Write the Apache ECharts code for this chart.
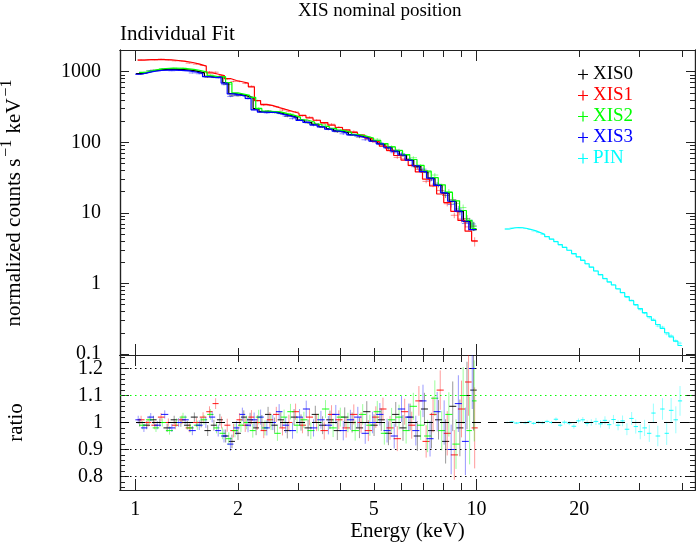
<!DOCTYPE html>
<html><head><meta charset="utf-8">
<script src="https://cdn.jsdelivr.net/npm/echarts@6/dist/echarts.min.js"></script>
<style>html,body{margin:0;padding:0;background:#fff}#c{width:696px;height:544px}</style>
</head><body><div id="c"></div>
<script>
// ---------------- data ----------------
const xis0Energy = [1.03,1.08,1.13,1.18,1.24,1.30,1.36,1.42,1.49,1.56,1.63,1.70,1.77,1.84,1.92,2.00,2.08,2.17,2.26,2.35,2.45,2.56,2.67,2.79,2.92,3.06,3.21,3.37,3.54,3.72,3.91,4.11,4.32,4.54,4.77,5.01,5.26,5.52,5.80,6.09,6.39,6.71,7.04,7.38,7.74,8.12,8.52,8.94,9.38,9.80];
const xis1Energy = [1.04,1.09,1.14,1.19,1.25,1.31,1.37,1.44,1.51,1.58,1.65,1.72,1.79,1.86,1.94,2.02,2.10,2.19,2.28,2.38,2.48,2.59,2.70,2.82,2.95,3.09,3.24,3.40,3.58,3.76,3.95,4.15,4.37,4.59,4.82,5.07,5.32,5.58,5.86,6.16,6.46,6.78,7.12,7.46,7.83,8.21,8.61,9.04,9.48,9.88];
const xis2Energy = [1.05,1.10,1.15,1.20,1.26,1.32,1.38,1.45,1.52,1.59,1.66,1.73,1.80,1.88,1.96,2.04,2.12,2.21,2.30,2.40,2.50,2.61,2.73,2.85,2.98,3.12,3.27,3.44,3.61,3.80,3.99,4.20,4.41,4.64,4.87,5.12,5.37,5.64,5.93,6.22,6.53,6.86,7.19,7.55,7.91,8.30,8.71,9.14,9.55,9.85];
const xis3Energy = [1.02,1.06,1.11,1.16,1.22,1.28,1.34,1.40,1.47,1.54,1.61,1.68,1.75,1.82,1.90,1.98,2.06,2.14,2.23,2.33,2.43,2.53,2.64,2.76,2.89,3.03,3.17,3.33,3.50,3.68,3.87,4.07,4.27,4.49,4.72,4.96,5.21,5.47,5.74,6.03,6.33,6.64,6.97,7.31,7.67,8.04,8.43,8.85,9.28,9.72];

const xis0Model = [940,990,1040,1070,1085,1080,1070,1050,1010,960,860,835,845,700,490,475,455,430,300,272,270,268,252,240,225,205,192,178,166,155,145,137,128,121,114,105,95,85,75,66,56,46,38,31,24.5,19,14.5,10.5,7.5,5.8];
const xis1Model = [1460,1480,1485,1480,1470,1440,1400,1350,1280,1200,960,920,880,800,750,720,690,610,390,345,330,310,292,275,258,240,222,205,190,175,162,150,138,126,114,102,88,77,65,56,47,38,30,24,18.5,14,10.5,7.8,5.5,4.0];
const xis2Model = [980,1030,1080,1110,1125,1120,1105,1080,1040,985,875,845,850,700,500,482,462,432,300,276,273,270,255,242,227,207,194,180,168,157,147,138,129,122,115,106,96,86,76,67,57,47,39,31.5,25,19.5,14.8,10.8,7.8,6.0];
const xis3Model = [920,965,1010,1040,1055,1052,1045,1025,990,945,850,828,840,690,485,470,450,418,288,268,266,265,250,238,223,204,191,177,165,154,144,136,127,120,113,104,95,85,75,66,56,46.5,38.5,31,24.5,19.2,14.6,10.6,7.6,5.8];

const xis0Ratio = [1.00,0.99,1.01,1.00,0.98,1.01,1.00,0.99,1.02,1.00,0.97,0.99,1.01,0.95,0.93,0.96,1.02,1.01,0.98,1.00,1.03,0.99,1.01,0.97,1.02,1.00,0.98,1.03,0.99,1.01,0.97,1.02,1.00,0.98,1.04,0.99,1.01,0.96,1.03,0.98,1.02,0.95,1.05,0.97,1.01,0.93,1.06,0.98,1.10,1.12];
const xis1Ratio = [1.01,1.00,0.99,1.02,1.00,0.99,1.01,0.98,1.00,1.02,1.04,1.07,1.00,0.99,0.97,1.01,0.99,1.02,1.00,0.97,1.01,1.03,0.98,1.00,1.04,0.99,1.02,1.00,0.97,1.03,1.01,0.98,1.03,1.00,0.97,1.02,1.05,0.98,0.94,1.04,0.99,1.08,0.93,1.03,1.12,0.96,0.88,1.05,1.15,0.98];
const xis2Ratio = [0.99,1.01,0.98,1.00,0.97,1.00,1.02,0.98,0.99,1.01,1.03,0.98,0.96,0.94,0.97,0.99,1.00,0.97,1.02,0.98,1.00,0.96,1.02,1.04,0.99,1.01,0.97,1.00,1.05,0.98,1.02,1.00,0.97,1.03,0.99,1.04,0.96,1.01,1.02,0.97,1.06,0.99,0.95,1.09,0.97,1.03,0.92,1.10,0.97,1.08];
const xis3Ratio = [1.01,0.98,1.02,0.99,1.03,0.98,1.00,1.01,0.97,0.99,1.00,1.02,0.97,0.95,0.92,0.98,1.03,0.99,1.01,1.02,0.98,1.00,1.04,0.99,0.97,1.02,1.05,0.98,1.01,0.99,1.03,0.97,1.01,1.02,0.96,1.00,1.03,0.97,0.95,1.05,1.02,0.97,1.08,0.94,1.04,1.00,0.90,1.07,0.93,1.20];
const xisRatioErr = [0.015,0.015,0.015,0.015,0.015,0.015,0.016,0.016,0.017,0.018,0.020,0.020,0.022,0.024,0.025,0.025,0.025,0.026,0.027,0.028,0.028,0.028,0.028,0.029,0.030,0.030,0.031,0.032,0.033,0.034,0.035,0.036,0.037,0.038,0.039,0.040,0.042,0.044,0.046,0.048,0.050,0.055,0.060,0.066,0.073,0.082,0.092,0.105,0.125,0.150];

const pinEnergy = [12.3,12.7,13.1,13.5,13.9,14.3,14.7,15.2,15.6,16.1,16.6,17.1,17.6,18.1,18.7,19.3,19.9,20.5,21.1,21.7,22.4,23.1,23.8,24.5,25.2,26.0,26.8,27.6,28.5,29.3,30.2,31.1,32.1,33.0,34.0,35.1,36.1,37.2,38.4,39.5];
const pinModel = [5.9,6.1,6.2,6.15,6.0,5.8,5.55,5.25,4.95,4.6,4.25,3.9,3.55,3.25,2.95,2.65,2.38,2.12,1.9,1.70,1.50,1.33,1.17,1.05,0.95,0.84,0.74,0.65,0.57,0.50,0.44,0.385,0.34,0.30,0.262,0.23,0.20,0.175,0.152,0.132];
const pinRatio = [1.000,1.002,0.998,1.000,0.999,1.003,0.997,1.001,0.999,1.004,1.000,1.012,0.990,1.001,0.998,0.986,1.006,1.010,0.997,1.000,1.004,0.995,1.008,0.992,1.011,0.990,1.006,0.975,1.015,0.985,0.966,0.980,0.960,1.035,0.950,1.050,0.960,1.045,1.010,1.080];
const pinRatioErr = [0.004,0.004,0.004,0.004,0.005,0.005,0.005,0.005,0.006,0.006,0.006,0.007,0.007,0.008,0.008,0.009,0.009,0.010,0.011,0.012,0.013,0.014,0.015,0.016,0.017,0.019,0.020,0.022,0.024,0.026,0.028,0.030,0.032,0.035,0.038,0.040,0.043,0.046,0.050,0.055];

const energyRange = [0.902, 43.7];
const countsRange = [0.0968, 2030];
const ratioRange = [0.75, 1.25];
const energyMajorTicks = [1, 10];
const energyMinorTicks = [2, 3, 4, 5, 6, 7, 8, 9, 20, 30, 40];
const energyTickLabels = [1, 2, 5, 10, 20];
const countsMajorTicks = [0.1, 1, 10, 100, 1000];
const countsMinorTicks = [0.2,0.3,0.4,0.5,0.6,0.7,0.8,0.9,2,3,4,5,6,7,8,9,20,30,40,50,60,70,80,90,200,300,400,500,600,700,800,900,2000];
const ratioMajorTicks = [0.8, 0.9, 1.0, 1.1, 1.2];
const ratioMinorTicks = [0.76,0.78,0.82,0.84,0.86,0.88,0.92,0.94,0.96,0.98,1.02,1.04,1.06,1.08,1.12,1.14,1.16,1.18,1.22,1.24];
const ratioRefLines = [0.8, 0.9, 1.1, 1.2];

const instruments = [
  {name: 'XIS0', color: '#000000', E: xis0Energy, model: xis0Model, ratio: xis0Ratio, err: xisRatioErr},
  {name: 'XIS1', color: '#ff0000', E: xis1Energy, model: xis1Model, ratio: xis1Ratio, err: xisRatioErr},
  {name: 'XIS2', color: '#00ff00', E: xis2Energy, model: xis2Model, ratio: xis2Ratio, err: xisRatioErr},
  {name: 'XIS3', color: '#0000ff', E: xis3Energy, model: xis3Model, ratio: xis3Ratio, err: xisRatioErr},
  {name: 'PIN',  color: '#00ffff', E: pinEnergy,  model: pinModel,  ratio: pinRatio,  err: pinRatioErr}
];

// ---------------- build ----------------
const FONT = 'Liberation Serif';
const lg = Math.log10;
const AX = '#222';

function edges(E) {
  const n = E.length, lo = [], hi = [];
  for (let i = 0; i < n; i++) {
    lo.push(i > 0 ? Math.sqrt(E[i - 1] * E[i]) : E[0] / Math.sqrt(E[1] / E[0]));
    hi.push(i < n - 1 ? Math.sqrt(E[i] * E[i + 1]) : E[n - 1] * Math.sqrt(E[n - 1] / E[n - 2]));
  }
  return {lo, hi};
}

function crossRender(hOpacity, vOpacity, color) {
  return function (params, api) {
    const p0 = api.coord([api.value(1), api.value(3)]);
    const p1 = api.coord([api.value(2), api.value(3)]);
    const q0 = api.coord([api.value(0), api.value(4)]);
    const q1 = api.coord([api.value(0), api.value(5)]);
    return {
      type: 'group',
      children: [
        {type: 'line', shape: {x1: q0[0], y1: q0[1], x2: q1[0], y2: q1[1]}, style: {stroke: color, lineWidth: 1, opacity: vOpacity}},
        {type: 'line', shape: {x1: p0[0], y1: p0[1], x2: p1[0], y2: p1[1]}, style: {stroke: color, lineWidth: 1, opacity: hOpacity}}
      ]
    };
  };
}

const series = [];
instruments.forEach(function (ins) {
  const ed = edges(ins.E);
  const step = [];
  const topCross = [];
  const botCross = [];
  ins.E.forEach(function (e, i) {
    const m = ins.model[i], r = ins.ratio[i], er = ins.err[i];
    step.push([lg(ed.lo[i]), lg(m)]);
    step.push([lg(ed.hi[i]), lg(m)]);
    const d = m * r;
    topCross.push([lg(e), lg(ed.lo[i]), lg(ed.hi[i]), lg(d), lg(Math.max(d * (1 - er), 1e-6)), lg(d * (1 + er))]);
    botCross.push([lg(e), lg(ed.lo[i]), lg(ed.hi[i]), r, r - er, r + er]);
  });
  series.push({
    name: ins.name, type: 'custom', xAxisIndex: 0, yAxisIndex: 0, clip: true, silent: true, animation: false,
    itemStyle: {color: ins.color},
    renderItem: crossRender(0.45, 0.45, ins.color),
    encode: {x: [0, 1, 2], y: [3, 4, 5]},
    data: topCross, z: 2
  });
  series.push({
    name: ins.name, type: 'line', xAxisIndex: 0, yAxisIndex: 0, showSymbol: false, symbol: 'none', silent: true, animation: false,
    itemStyle: {color: ins.color}, lineStyle: {color: ins.color, width: 1.2}, data: step, z: 3
  });
  series.push({
    name: ins.name, type: 'custom', xAxisIndex: 4, yAxisIndex: 4, clip: true, silent: true, animation: false,
    itemStyle: {color: ins.color},
    renderItem: crossRender(0.9, 0.4, ins.color),
    encode: {x: [0, 1, 2], y: [3, 4, 5]},
    data: botCross, z: 3
  });
});

// reference lines in ratio panel
series.push({
  name: 'ref', type: 'line', xAxisIndex: 4, yAxisIndex: 4, data: [], silent: true, animation: false,
  markLine: {
    silent: true, symbol: ['none', 'none'], label: {show: false}, animation: false,
    data: [
      {yAxis: 1.0, lineStyle: {color: '#000', type: [9, 7], width: 1}},
      {yAxis: ratioRefLines[0], lineStyle: {color: '#000', type: [1.5, 3.5], width: 1}},
      {yAxis: ratioRefLines[1], lineStyle: {color: '#000', type: [1.5, 3.5], width: 1}},
      {yAxis: ratioRefLines[2], lineStyle: {color: '#00ff00', type: [1.5, 3.5], width: 1}},
      {yAxis: ratioRefLines[3], lineStyle: {color: '#000', type: [1.5, 3.5], width: 1}}
    ]
  },
  z: 1
});

function xAx(grid, pos, ticks, len, opts) {
  return Object.assign({
    type: 'value', gridIndex: grid, position: pos, min: lg(energyRange[0]), max: lg(energyRange[1]),
    axisLine: {show: true, onZero: false, lineStyle: {color: AX, width: 1.2}},
    axisTick: {show: true, inside: true, length: len, customValues: ticks.map(lg), lineStyle: {color: AX, width: 1}},
    axisLabel: {show: false}, splitLine: {show: false}
  }, opts || {});
}
function yAx(grid, pos, min, max, ticks, len, opts) {
  return Object.assign({
    type: 'value', gridIndex: grid, position: pos, min: min, max: max,
    axisLine: {show: true, onZero: false, lineStyle: {color: AX, width: 1.2}},
    axisTick: {show: true, inside: true, length: len, customValues: ticks, lineStyle: {color: AX, width: 1}},
    axisLabel: {show: false}, splitLine: {show: false}
  }, opts || {});
}

const labelFont = {fontFamily: FONT, fontSize: 20, color: '#000'};
const nameFont = {fontFamily: FONT, fontSize: 21, color: '#000'};

const xAxis = [
  xAx(0, 'bottom', energyMajorTicks, 11),
  xAx(0, 'bottom', energyMinorTicks, 7),
  xAx(0, 'top', energyMajorTicks, 11),
  xAx(0, 'top', energyMinorTicks, 7),
  xAx(1, 'bottom', energyMajorTicks, 11, {
    axisLabel: Object.assign({show: true, margin: 10, customValues: energyTickLabels.map(lg),
      formatter: function (v) { return String(Math.round(Math.pow(10, v))); }}, labelFont),
    name: 'Energy (keV)', nameLocation: 'middle', nameGap: 29, nameTextStyle: nameFont
  }),
  xAx(1, 'bottom', energyMinorTicks, 7),
  xAx(1, 'top', energyMajorTicks, 11),
  xAx(1, 'top', energyMinorTicks, 7)
];

const yAxis = [
  yAx(0, 'left', lg(countsRange[0]), lg(countsRange[1]), countsMajorTicks.map(lg), 9, {
    axisLabel: Object.assign({show: true, margin: 19, customValues: countsMajorTicks.map(lg),
      formatter: function (v) { return String(+Math.pow(10, v).toPrecision(6)); }}, labelFont),
    name: '{n|normalized counts s}{s|\u22121}{n| keV}{s|\u22121}', nameLocation: 'middle', nameRotate: 90, nameGap: 95,
    nameTextStyle: {
      fontFamily: FONT, fontSize: 21, color: '#000', padding: [0, 0, 0, 0],
      rich: {
        n: {fontFamily: FONT, fontSize: 21, color: '#000', lineHeight: 26, verticalAlign: 'bottom'},
        s: {fontFamily: FONT, fontSize: 16, color: '#000', lineHeight: 26, verticalAlign: 'top', padding: [0, 1, 0, 2]}
      }
    }
  }),
  yAx(0, 'left', lg(countsRange[0]), lg(countsRange[1]), countsMinorTicks.map(lg), 5),
  yAx(0, 'right', lg(countsRange[0]), lg(countsRange[1]), countsMajorTicks.map(lg), 9),
  yAx(0, 'right', lg(countsRange[0]), lg(countsRange[1]), countsMinorTicks.map(lg), 5),
  yAx(1, 'left', ratioRange[0], ratioRange[1], ratioMajorTicks, 9, {
    axisLabel: Object.assign({show: true, margin: 17, customValues: ratioMajorTicks,
      formatter: function (v) { return String(+v.toFixed(2)); }}, labelFont),
    name: 'ratio', nameLocation: 'middle', nameRotate: 90, nameGap: 93, nameTextStyle: nameFont
  }),
  yAx(1, 'left', ratioRange[0], ratioRange[1], ratioMinorTicks, 5),
  yAx(1, 'right', ratioRange[0], ratioRange[1], ratioMajorTicks, 9),
  yAx(1, 'right', ratioRange[0], ratioRange[1], ratioMinorTicks, 5)
];

const plusIcon = 'path://M4.4,0h1.2v4.4h4.4v1.2h-4.4v4.4h-1.2v-4.4h-4.4v-1.2h4.4z';

const option = {
  backgroundColor: '#fff',
  animation: false,
  title: [
    {text: 'XIS nominal position', left: 293, top: -3, textStyle: {fontFamily: FONT, fontSize: 19, fontWeight: 'normal', color: '#000'}},
    {text: 'Individual Fit', left: 115, top: 19, textStyle: {fontFamily: FONT, fontSize: 21, fontWeight: 'normal', color: '#000'}}
  ],
  grid: [
    {left: 120, top: 50, width: 575, height: 305, outerBoundsMode: 'none', containLabel: false},
    {left: 120, top: 355, width: 575, height: 135, outerBoundsMode: 'none', containLabel: false}
  ],
  legend: {
    orient: 'vertical', left: 573, top: 60, itemWidth: 10, itemHeight: 10, itemGap: 2,
    selectedMode: false,
    textStyle: {fontFamily: FONT, fontSize: 19},
    data: instruments.map(function (ins) {
      return {name: ins.name, icon: plusIcon, itemStyle: {color: ins.color}, textStyle: {color: ins.color}};
    })
  },
  xAxis: xAxis,
  yAxis: yAxis,
  series: series
};

const chart = echarts.init(document.getElementById('c'), null, {renderer: 'canvas'});
chart.setOption(option);
</script>
</body></html>
